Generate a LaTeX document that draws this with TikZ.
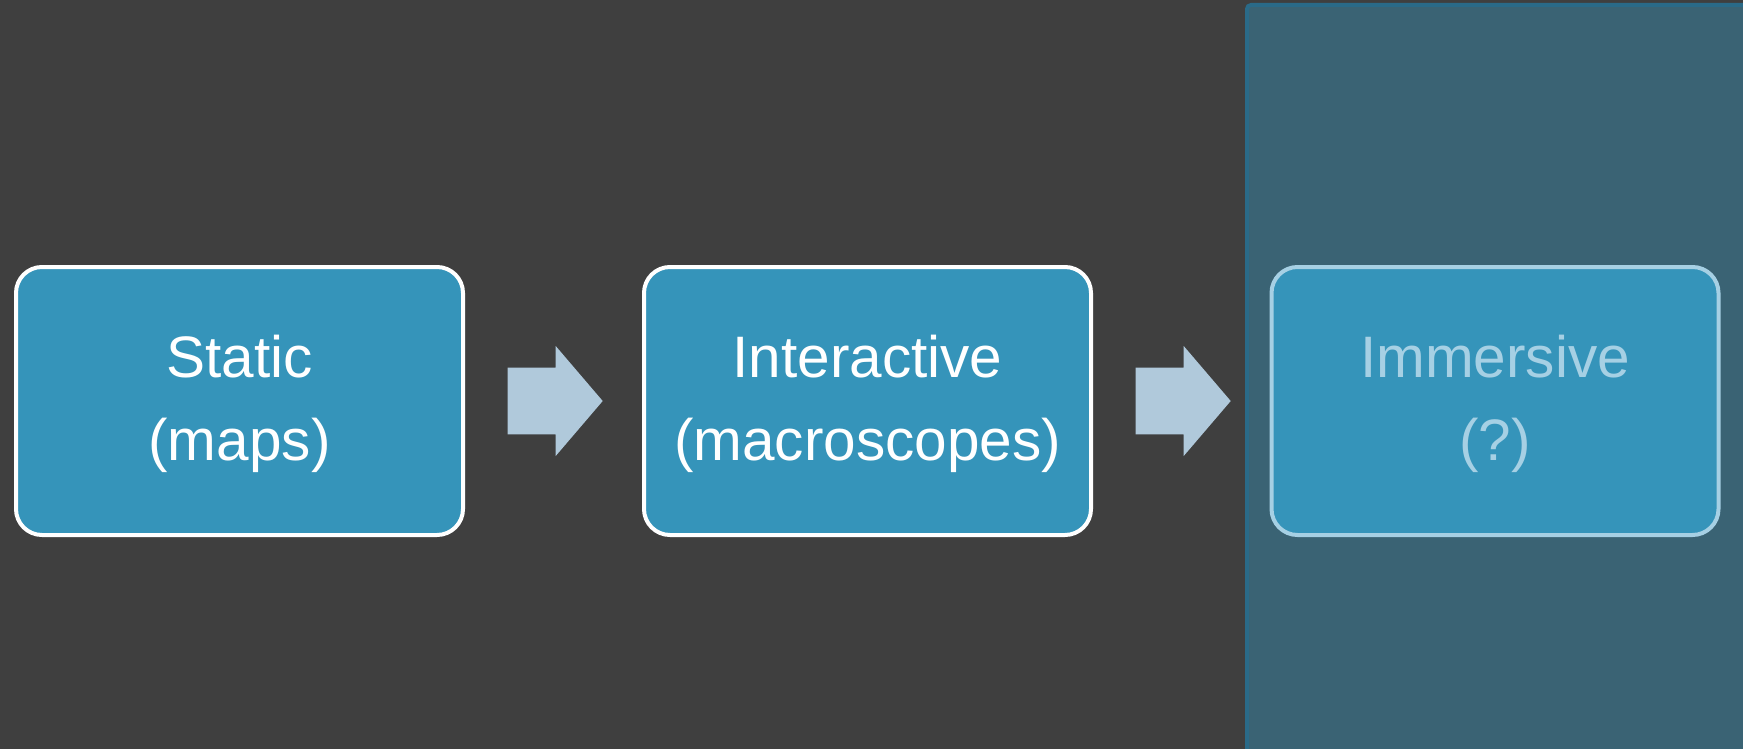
\documentclass[tikz,border=0pt]{standalone}
\usepackage{fontspec}
\setmainfont{Liberation Sans}
\usetikzlibrary{calc}
\definecolor{bgcol}{HTML}{3F3F3F}
\definecolor{panelfill}{HTML}{3A6374}
\definecolor{paneledge}{HTML}{2A6A88}
\definecolor{boxblue}{HTML}{3594BA}
\definecolor{arrowblue}{HTML}{B0C9DB}
\definecolor{paleblue}{HTML}{A6D0E4}
\begin{document}
\begin{tikzpicture}[x=1pt,y=-1pt,
  box/.style={draw=white, line width=4pt, fill=boxblue, rounded corners=26pt,
    minimum width=447pt, minimum height=268pt, inner sep=0pt},
  lbl/.style={anchor=base, text=white, font=\fontsize{58.5}{70}\selectfont, inner sep=0pt},
  blockarrow/.style={fill=arrowblue, draw=none},
  panel/.style={fill=panelfill, draw=paneledge, line width=4pt, rounded corners=4pt}]
\useasboundingbox (0,0) rectangle (1743,749);
\clip (0,0) rectangle (1743,749);
\fill[bgcol] (0,0) rectangle (1743,749);
\draw[panel] (1247,5) rectangle (1770,780);
% boxes
\node[box] (b1) at (239.5,401) {};
\node[box] (b2) at (867.5,401) {};
\node[box, draw=paleblue] (b3) at (1495,401) {};
% labels
\node[lbl] (t1a) at ($(b1.center)+(0,-23.3)$) {Static};
\node[lbl] (t1b) at ($(b1.center)+(0,59.7)$) {(maps)};
\node[lbl] (t2a) at ($(b2.center)+(0,-23.3)$) {Interactive};
\node[lbl] (t2b) at ($(b2.center)+(0,59.7)$) {(macroscopes)};
\node[lbl, text=paleblue] (t3a) at ($(b3.center)+(0,-23.3)$) {Immersive};
\node[lbl, text=paleblue] (t3b) at ($(b3.center)+(0,59.7)$) {(?)};
% block arrows
\coordinate (a1) at ($(b1.center)+(315.7,0)$);
\coordinate (a2) at ($(b2.center)+(315.7,0)$);
\foreach \a in {a1,a2}{
  \fill[blockarrow, shift={(\a)}] (-47.5,-33.3) -- (0.5,-33.3) -- (0.5,-55) -- (47.5,0)
    -- (0.5,55) -- (0.5,33.3) -- (-47.5,33.3) -- cycle;
}
\end{tikzpicture}
\end{document}
